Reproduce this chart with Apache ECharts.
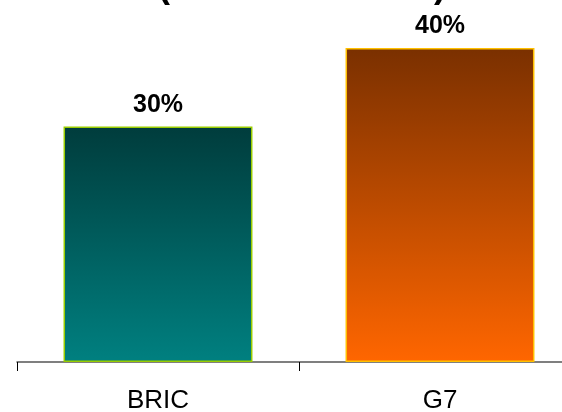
<!DOCTYPE html>
<html><head><meta charset="utf-8">
<script src="https://cdn.jsdelivr.net/npm/echarts@6/dist/echarts.min.js"></script>
<style>html,body{margin:0;padding:0;background:#fff}#c{width:562px;height:412px}</style>
</head><body><div id="c"></div>
<script>
const categories = ['BRIC', 'G7'];
const values = [30, 40];
const labels = ['30%', '40%'];

const colorsTop = ['#003c3c', '#7a3000'];
const colorsBottom = ['#008080', '#ff6600'];
const borders = ['#99cc00', '#ffc000'];

const chart = echarts.init(document.getElementById('c'));
chart.setOption({
  animation: false,
  graphic: [
    {type: 'text', style: {x: 164, y: 5, text: '(', textAlign: 'center', textVerticalAlign: 'bottom', font: 'bold 36px "Liberation Sans", Arial', fill: '#000', shadowColor: 'rgba(0,0,0,0.2)', shadowOffsetX: 1, shadowOffsetY: 1}},
    {type: 'text', style: {x: 440, y: 5, text: ')', textAlign: 'center', textVerticalAlign: 'bottom', font: 'bold 36px "Liberation Sans", Arial', fill: '#000', shadowColor: 'rgba(0,0,0,0.2)', shadowOffsetX: 1, shadowOffsetY: 1}}
  ],
  grid: {left: 17, width: 564, top: 48, bottom: 50, outerBoundsMode: 'none', containLabel: false},
  xAxis: {
    type: 'category',
    data: categories,
    axisLine: {lineStyle: {color: '#555', width: 1.5}},
    axisTick: {show: true, length: 9, lineStyle: {color: '#000'}},
    axisLabel: {fontFamily: '"Liberation Sans", Arial', fontSize: 26, color: '#000', margin: 26}
  },
  yAxis: {type: 'value', min: 0, max: 40, show: false, splitLine: {show: false}},
  series: [{
    type: 'bar',
    barWidth: '67%',
    data: values.map((v, i) => ({
      value: v,
      itemStyle: {
        color: new echarts.graphic.LinearGradient(0, 0, 0, 1, [
          {offset: 0, color: colorsTop[i]},
          {offset: 1, color: colorsBottom[i]}
        ]),
        borderColor: borders[i],
        borderWidth: 1.5
      },
      label: {formatter: labels[i]}
    })),
    label: {
      show: true, position: 'top', distance: 9,
      fontFamily: '"Liberation Sans", Arial', fontWeight: 'bold', fontSize: 25, color: '#000',
      textShadowColor: 'rgba(0,0,0,0.18)', textShadowOffsetX: 1, textShadowOffsetY: 1, textShadowBlur: 0
    }
  }]
});
</script></body></html>
